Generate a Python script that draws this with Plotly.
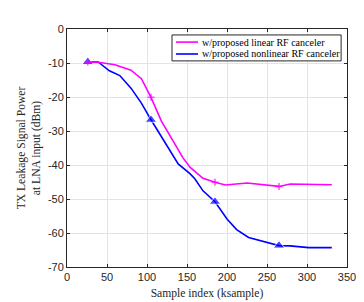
import plotly.graph_objects as go

lin_x = [26, 39, 60, 80, 93, 105, 118, 145, 154, 170, 185, 198, 225, 265, 279, 331]
lin_y = [-9.7, -9.8, -10.5, -12.1, -14.6, -20.1, -27.1, -37.9, -40.7, -43.9, -45.1, -45.9, -45.3, -46.3, -45.6, -45.8]
lin_mk = [26, 105, 185, 265]

nl_x = [26, 39, 53, 66, 80, 93, 105, 135, 139, 154, 160, 170, 185, 200, 212, 227, 265, 279, 302, 331]
nl_y = [-9.7, -9.7, -12.3, -13.7, -17.4, -21.8, -26.7, -37.9, -39.7, -42.6, -44.1, -47.6, -50.8, -55.9, -59.0, -61.3, -63.7, -63.8, -64.3, -64.3]
nl_mk = [26, 105, 185, 265]

names = ["w/proposed linear RF canceler", "w/proposed nonlinear RF canceler"]
colors = ["#ff00ff", "#0000ff"]
x_ticks = [0, 50, 100, 150, 200, 250, 300, 350]
y_ticks = [0, -10, -20, -30, -40, -50, -60, -70]

def sizes(xs, mk, s):
    return [s if x in mk else 0 for x in xs]

fig = go.Figure()
fig.add_trace(go.Scatter(x=nl_x, y=nl_y, mode="lines+markers", name=names[1],
                         line=dict(color=colors[1], width=1.6),
                         marker=dict(symbol="triangle-up", size=sizes(nl_x, nl_mk, 10), color=colors[1]),
                         showlegend=False))
fig.add_trace(go.Scatter(x=lin_x, y=lin_y, mode="lines+markers", name=names[0],
                         line=dict(color=colors[0], width=1.6),
                         marker=dict(symbol="cross-thin", size=sizes(lin_x, lin_mk, 5),
                                     line=dict(color=colors[0], width=1.5), color=colors[0]),
                         showlegend=False))

axis_common = dict(showgrid=True, gridcolor="#e3e3e3", gridwidth=1, zeroline=False,
                   showline=True, linecolor="#262626", linewidth=1, mirror="ticks",
                   ticks="inside", ticklen=3, tickcolor="#262626",
                   tickfont=dict(family="Liberation Sans, Arial", size=11, color="#262626"))

serif = "Liberation Serif, Times New Roman"
fig.update_xaxes(range=[0, 350], tickvals=x_ticks, ticktext=[str(v) for v in x_ticks],
                 title=dict(text="Sample index (ksample)", font=dict(family=serif, size=11.6, color="#262626"), standoff=6),
                 **axis_common)
fig.update_yaxes(range=[-70, 0], tickvals=y_ticks, ticktext=[str(v) for v in y_ticks],
                 title=dict(text="TX Leakage Signal Power<br>at LNA input (dBm)", font=dict(family=serif, size=11.6, color="#262626"), standoff=4),
                 **axis_common)

# manual legend box
shapes = [dict(type="rect", xref="paper", yref="paper", x0=0.375, x1=0.979, y0=0.866, y1=0.975,
               line=dict(color="#262626", width=1), fillcolor="white", layer="above")]
annotations = []
row_y = [0.945, 0.895]
for name, col, ry in zip(names, colors, row_y):
    shapes.append(dict(type="line", xref="paper", yref="paper", x0=0.389, x1=0.468, y0=ry, y1=ry,
                       line=dict(color=col, width=1.6), layer="above"))
    annotations.append(dict(xref="paper", yref="paper", x=0.474, y=ry, xanchor="left", yanchor="middle",
                            text=name, showarrow=False,
                            font=dict(family=serif, size=10, color="#000")))

fig.update_layout(width=364, height=302, margin=dict(l=59, r=25, t=21, b=43),
                  plot_bgcolor="white", paper_bgcolor="white", showlegend=False,
                  shapes=shapes, annotations=annotations)

fig.write_html("out.html")
